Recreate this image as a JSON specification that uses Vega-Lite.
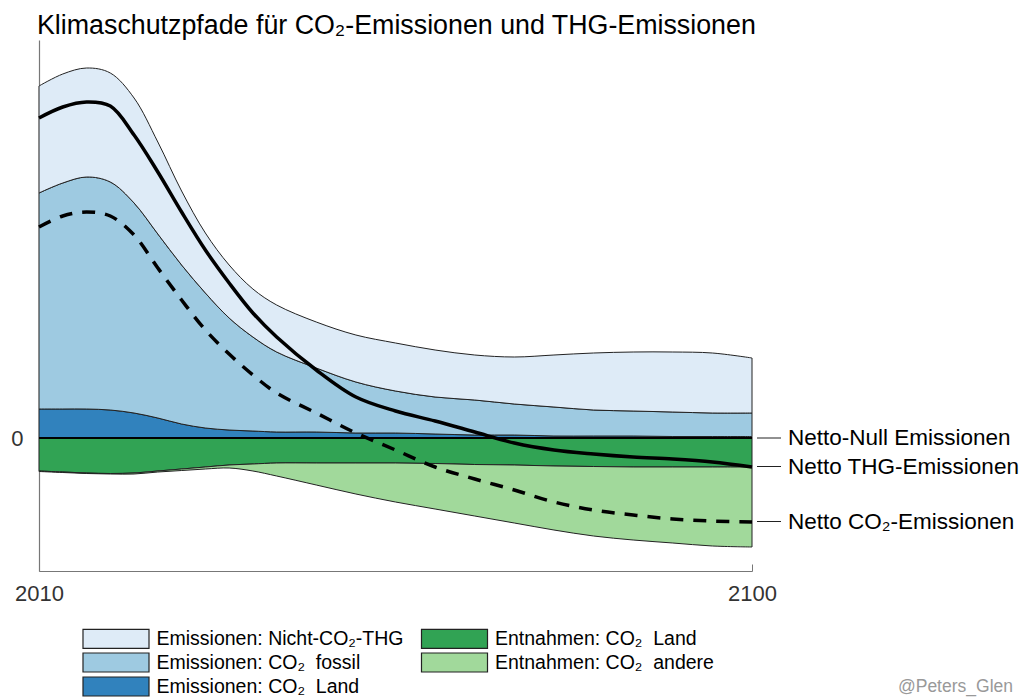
{
 "$schema": "https://vega.github.io/schema/vega-lite/v6.json",
 "width": 713, "height": 531,
 "autosize": "none",
 "padding": {"left": 39, "top": 40, "right": 267, "bottom": 126},
 "background": "white",
 "config": {"font": "Liberation Sans", "view": {"stroke": null}},
 "title": {"text": "Klimaschutzpfade für CO₂-Emissionen und THG-Emissionen", "anchor": "start", "frame": "group", "fontSize": 26.8, "fontWeight": "normal", "color": "#000", "baseline": "alphabetic", "offset": 7, "dy": 28, "dx": -2},
 "datasets": {
  "areas": [
   {"year":2010,"series":"Emissionen: CO₂\u00a0 Land","value":2.9},
   {"year":2013,"series":"Emissionen: CO₂\u00a0 Land","value":2.9},
   {"year":2016,"series":"Emissionen: CO₂\u00a0 Land","value":2.9},
   {"year":2019,"series":"Emissionen: CO₂\u00a0 Land","value":2.8},
   {"year":2022,"series":"Emissionen: CO₂\u00a0 Land","value":2.5},
   {"year":2025,"series":"Emissionen: CO₂\u00a0 Land","value":2.0},
   {"year":2028,"series":"Emissionen: CO₂\u00a0 Land","value":1.4},
   {"year":2031,"series":"Emissionen: CO₂\u00a0 Land","value":1.0},
   {"year":2034,"series":"Emissionen: CO₂\u00a0 Land","value":0.8},
   {"year":2037,"series":"Emissionen: CO₂\u00a0 Land","value":0.7},
   {"year":2040,"series":"Emissionen: CO₂\u00a0 Land","value":0.6},
   {"year":2045,"series":"Emissionen: CO₂\u00a0 Land","value":0.6},
   {"year":2050,"series":"Emissionen: CO₂\u00a0 Land","value":0.5},
   {"year":2055,"series":"Emissionen: CO₂\u00a0 Land","value":0.5},
   {"year":2060,"series":"Emissionen: CO₂\u00a0 Land","value":0.4},
   {"year":2065,"series":"Emissionen: CO₂\u00a0 Land","value":0.3},
   {"year":2070,"series":"Emissionen: CO₂\u00a0 Land","value":0.3},
   {"year":2075,"series":"Emissionen: CO₂\u00a0 Land","value":0.2},
   {"year":2080,"series":"Emissionen: CO₂\u00a0 Land","value":0.2},
   {"year":2085,"series":"Emissionen: CO₂\u00a0 Land","value":0.2},
   {"year":2090,"series":"Emissionen: CO₂\u00a0 Land","value":0.15},
   {"year":2095,"series":"Emissionen: CO₂\u00a0 Land","value":0.15},
   {"year":2100,"series":"Emissionen: CO₂\u00a0 Land","value":0.15},

   {"year":2010,"series":"Emissionen: CO₂\u00a0 fossil","value":21.6},
   {"year":2013,"series":"Emissionen: CO₂\u00a0 fossil","value":22.6},
   {"year":2016,"series":"Emissionen: CO₂\u00a0 fossil","value":23.2},
   {"year":2019,"series":"Emissionen: CO₂\u00a0 fossil","value":22.8},
   {"year":2022,"series":"Emissionen: CO₂\u00a0 fossil","value":21.0},
   {"year":2025,"series":"Emissionen: CO₂\u00a0 fossil","value":18.4},
   {"year":2028,"series":"Emissionen: CO₂\u00a0 fossil","value":15.9},
   {"year":2031,"series":"Emissionen: CO₂\u00a0 fossil","value":13.5},
   {"year":2034,"series":"Emissionen: CO₂\u00a0 fossil","value":11.2},
   {"year":2037,"series":"Emissionen: CO₂\u00a0 fossil","value":9.4},
   {"year":2040,"series":"Emissionen: CO₂\u00a0 fossil","value":8.0},
   {"year":2045,"series":"Emissionen: CO₂\u00a0 fossil","value":6.4},
   {"year":2050,"series":"Emissionen: CO₂\u00a0 fossil","value":5.1},
   {"year":2055,"series":"Emissionen: CO₂\u00a0 fossil","value":4.2},
   {"year":2060,"series":"Emissionen: CO₂\u00a0 fossil","value":3.7},
   {"year":2065,"series":"Emissionen: CO₂\u00a0 fossil","value":3.5},
   {"year":2070,"series":"Emissionen: CO₂\u00a0 fossil","value":3.1},
   {"year":2075,"series":"Emissionen: CO₂\u00a0 fossil","value":2.9},
   {"year":2080,"series":"Emissionen: CO₂\u00a0 fossil","value":2.6},
   {"year":2085,"series":"Emissionen: CO₂\u00a0 fossil","value":2.5},
   {"year":2090,"series":"Emissionen: CO₂\u00a0 fossil","value":2.45},
   {"year":2095,"series":"Emissionen: CO₂\u00a0 fossil","value":2.35},
   {"year":2100,"series":"Emissionen: CO₂\u00a0 fossil","value":2.35},

   {"year":2010,"series":"Emissionen: Nicht-CO₂-THG","value":10.7},
   {"year":2013,"series":"Emissionen: Nicht-CO₂-THG","value":10.9},
   {"year":2016,"series":"Emissionen: Nicht-CO₂-THG","value":10.9},
   {"year":2019,"series":"Emissionen: Nicht-CO₂-THG","value":10.9},
   {"year":2022,"series":"Emissionen: Nicht-CO₂-THG","value":10.5},
   {"year":2025,"series":"Emissionen: Nicht-CO₂-THG","value":9.2},
   {"year":2028,"series":"Emissionen: Nicht-CO₂-THG","value":7.4},
   {"year":2031,"series":"Emissionen: Nicht-CO₂-THG","value":6.0},
   {"year":2034,"series":"Emissionen: Nicht-CO₂-THG","value":5.3},
   {"year":2037,"series":"Emissionen: Nicht-CO₂-THG","value":4.8},
   {"year":2040,"series":"Emissionen: Nicht-CO₂-THG","value":4.7},
   {"year":2045,"series":"Emissionen: Nicht-CO₂-THG","value":4.6},
   {"year":2050,"series":"Emissionen: Nicht-CO₂-THG","value":4.7},
   {"year":2055,"series":"Emissionen: Nicht-CO₂-THG","value":4.8},
   {"year":2060,"series":"Emissionen: Nicht-CO₂-THG","value":4.7},
   {"year":2065,"series":"Emissionen: Nicht-CO₂-THG","value":4.5},
   {"year":2070,"series":"Emissionen: Nicht-CO₂-THG","value":4.7},
   {"year":2075,"series":"Emissionen: Nicht-CO₂-THG","value":5.2},
   {"year":2080,"series":"Emissionen: Nicht-CO₂-THG","value":5.7},
   {"year":2085,"series":"Emissionen: Nicht-CO₂-THG","value":5.9},
   {"year":2090,"series":"Emissionen: Nicht-CO₂-THG","value":6.0},
   {"year":2095,"series":"Emissionen: Nicht-CO₂-THG","value":6.0},
   {"year":2100,"series":"Emissionen: Nicht-CO₂-THG","value":5.5},

   {"year":2010,"series":"Entnahmen: CO₂\u00a0 Land","value":-3.3},
   {"year":2013,"series":"Entnahmen: CO₂\u00a0 Land","value":-3.4},
   {"year":2016,"series":"Entnahmen: CO₂\u00a0 Land","value":-3.5},
   {"year":2019,"series":"Entnahmen: CO₂\u00a0 Land","value":-3.55},
   {"year":2022,"series":"Entnahmen: CO₂\u00a0 Land","value":-3.5},
   {"year":2025,"series":"Entnahmen: CO₂\u00a0 Land","value":-3.3},
   {"year":2028,"series":"Entnahmen: CO₂\u00a0 Land","value":-3.1},
   {"year":2031,"series":"Entnahmen: CO₂\u00a0 Land","value":-2.9},
   {"year":2034,"series":"Entnahmen: CO₂\u00a0 Land","value":-2.7},
   {"year":2037,"series":"Entnahmen: CO₂\u00a0 Land","value":-2.6},
   {"year":2040,"series":"Entnahmen: CO₂\u00a0 Land","value":-2.5},
   {"year":2045,"series":"Entnahmen: CO₂\u00a0 Land","value":-2.5},
   {"year":2050,"series":"Entnahmen: CO₂\u00a0 Land","value":-2.5},
   {"year":2055,"series":"Entnahmen: CO₂\u00a0 Land","value":-2.5},
   {"year":2060,"series":"Entnahmen: CO₂\u00a0 Land","value":-2.55},
   {"year":2065,"series":"Entnahmen: CO₂\u00a0 Land","value":-2.65},
   {"year":2070,"series":"Entnahmen: CO₂\u00a0 Land","value":-2.7},
   {"year":2075,"series":"Entnahmen: CO₂\u00a0 Land","value":-2.8},
   {"year":2080,"series":"Entnahmen: CO₂\u00a0 Land","value":-2.85},
   {"year":2085,"series":"Entnahmen: CO₂\u00a0 Land","value":-2.9},
   {"year":2090,"series":"Entnahmen: CO₂\u00a0 Land","value":-2.9},
   {"year":2095,"series":"Entnahmen: CO₂\u00a0 Land","value":-2.9},
   {"year":2100,"series":"Entnahmen: CO₂\u00a0 Land","value":-2.9},

   {"year":2010,"series":"Entnahmen: CO₂\u00a0 andere","value":-0.05},
   {"year":2013,"series":"Entnahmen: CO₂\u00a0 andere","value":-0.05},
   {"year":2016,"series":"Entnahmen: CO₂\u00a0 andere","value":-0.05},
   {"year":2019,"series":"Entnahmen: CO₂\u00a0 andere","value":-0.05},
   {"year":2022,"series":"Entnahmen: CO₂\u00a0 andere","value":-0.1},
   {"year":2025,"series":"Entnahmen: CO₂\u00a0 andere","value":-0.1},
   {"year":2028,"series":"Entnahmen: CO₂\u00a0 andere","value":-0.15},
   {"year":2031,"series":"Entnahmen: CO₂\u00a0 andere","value":-0.2},
   {"year":2034,"series":"Entnahmen: CO₂\u00a0 andere","value":-0.3},
   {"year":2037,"series":"Entnahmen: CO₂\u00a0 andere","value":-0.7},
   {"year":2040,"series":"Entnahmen: CO₂\u00a0 andere","value":-1.3},
   {"year":2045,"series":"Entnahmen: CO₂\u00a0 andere","value":-2.2},
   {"year":2050,"series":"Entnahmen: CO₂\u00a0 andere","value":-3.1},
   {"year":2055,"series":"Entnahmen: CO₂\u00a0 andere","value":-3.9},
   {"year":2060,"series":"Entnahmen: CO₂\u00a0 andere","value":-4.55},
   {"year":2065,"series":"Entnahmen: CO₂\u00a0 andere","value":-5.15},
   {"year":2070,"series":"Entnahmen: CO₂\u00a0 andere","value":-5.8},
   {"year":2075,"series":"Entnahmen: CO₂\u00a0 andere","value":-6.4},
   {"year":2080,"series":"Entnahmen: CO₂\u00a0 andere","value":-6.95},
   {"year":2085,"series":"Entnahmen: CO₂\u00a0 andere","value":-7.3},
   {"year":2090,"series":"Entnahmen: CO₂\u00a0 andere","value":-7.6},
   {"year":2095,"series":"Entnahmen: CO₂\u00a0 andere","value":-7.9},
   {"year":2100,"series":"Entnahmen: CO₂\u00a0 andere","value":-8.0}
  ],
  "netto": [
   {"year":2010,"ghg":32.0,"co2":21.1},
   {"year":2013,"ghg":33.1,"co2":22.2},
   {"year":2016,"ghg":33.6,"co2":22.6},
   {"year":2019,"ghg":33.2,"co2":22.2},
   {"year":2022,"ghg":30.3,"co2":20.3},
   {"year":2025,"ghg":26.6,"co2":17.0},
   {"year":2028,"ghg":22.6,"co2":13.8},
   {"year":2031,"ghg":18.8,"co2":10.8},
   {"year":2034,"ghg":15.5,"co2":8.4},
   {"year":2037,"ghg":12.5,"co2":6.3},
   {"year":2040,"ghg":10.1,"co2":4.5},
   {"year":2045,"ghg":6.8,"co2":2.5},
   {"year":2050,"ghg":4.1,"co2":0.5},
   {"year":2055,"ghg":2.7,"co2":-1.2},
   {"year":2060,"ghg":1.7,"co2":-2.9},
   {"year":2065,"ghg":0.6,"co2":-4.1},
   {"year":2070,"ghg":-0.5,"co2":-5.2},
   {"year":2075,"ghg":-1.2,"co2":-6.4},
   {"year":2080,"ghg":-1.6,"co2":-7.2},
   {"year":2085,"ghg":-1.9,"co2":-7.7},
   {"year":2090,"ghg":-2.1,"co2":-8.1},
   {"year":2095,"ghg":-2.4,"co2":-8.3},
   {"year":2100,"ghg":-2.9,"co2":-8.4}
  ],
  "labels": [
   {"label":"Netto-Null Emissionen","value":0},
   {"label":"Netto THG-Emissionen","value":-2.85},
   {"label":"Netto CO₂-Emissionen","value":-8.35}
  ]
 },
 "layer": [
  {
   "data": {"name": "areas"},
   "mark": {"type": "area", "interpolate": "catmull-rom", "stroke": "#222", "strokeWidth": 1, "opacity": 1},
   "encoding": {
    "x": {"field": "year", "type": "quantitative", "scale": {"domain": [2010, 2100], "nice": false, "zero": false},
          "axis": {"values": [2010, 2100], "format": "d", "title": null, "grid": false, "domainColor": "#777", "domainWidth": 1.2, "tickColor": "#777", "tickSize": -7, "labelFontSize": 22, "labelColor": "#333", "labelPadding": 19, "labelFlush": false}},
    "y": {"field": "value", "type": "quantitative", "stack": "zero", "scale": {"domain": [-13.3, 39.8], "nice": false, "zero": false},
          "axis": {"values": [0], "title": null, "grid": false, "ticks": false, "domainColor": "#777", "domainWidth": 1.2, "labelFontSize": 22, "labelColor": "#333", "labelPadding": 16}},
    "color": {"field": "series", "type": "nominal",
      "scale": {"domain": ["Emissionen: Nicht-CO₂-THG", "Emissionen: CO₂\u00a0 fossil", "Emissionen: CO₂\u00a0 Land", "Entnahmen: CO₂\u00a0 Land", "Entnahmen: CO₂\u00a0 andere"],
                "range": ["#deebf7", "#9ecae1", "#3182bd", "#31a354", "#a1d99b"]},
      "legend": {"title": null, "orient": "none", "legendX": 66.5, "legendY": 588, "columns": 2, "symbolType": "M-3.474,-1H3.474V1H-3.474Z", "symbolSize": 361, "symbolStrokeColor": "#222", "symbolStrokeWidth": 1.2, "symbolOpacity": 1, "labelFontSize": 19.5, "labelColor": "#000", "labelOffset": 30, "labelLimit": 0, "rowPadding": -1, "columnPadding": 14.5, "padding": 0}},
    "order": {"field": "series", "type": "nominal", "sort": "ascending"}
   }
  },
  {
   "data": {"values": [{}]},
   "mark": {"type": "rule", "color": "#000", "strokeWidth": 2},
   "encoding": {"y": {"datum": 0}}
  },
  {
   "data": {"name": "netto"},
   "mark": {"type": "line", "interpolate": "catmull-rom", "color": "#000", "strokeWidth": 3.5},
   "encoding": {"x": {"field": "year", "type": "quantitative"}, "y": {"field": "ghg", "type": "quantitative"}}
  },
  {
   "data": {"name": "netto"},
   "mark": {"type": "line", "interpolate": "catmull-rom", "color": "#000", "strokeWidth": 3.5, "strokeDash": [13, 10]},
   "encoding": {"x": {"field": "year", "type": "quantitative"}, "y": {"field": "co2", "type": "quantitative"}}
  },
  {
   "data": {"name": "labels"},
   "mark": {"type": "rule", "color": "#222", "strokeWidth": 1, "xOffset": 5, "x2Offset": 29},
   "encoding": {"x": {"datum": 2100}, "x2": {"datum": 2100}, "y": {"field": "value", "type": "quantitative"}}
  },
  {
   "data": {"name": "labels"},
   "mark": {"type": "text", "align": "left", "baseline": "middle", "dx": 36, "fontSize": 22.5, "color": "#000"},
   "encoding": {"x": {"datum": 2100}, "y": {"field": "value", "type": "quantitative"}, "text": {"field": "label"}}
  },
  {
   "data": {"values": [{"text": "@Peters_Glen"}]},
   "mark": {"type": "text", "align": "right", "baseline": "middle", "dx": 261, "dy": 116, "fontSize": 17.5, "color": "#999"},
   "encoding": {"x": {"datum": 2100}, "y": {"datum": -13.3}, "text": {"field": "text"}}
  }
 ]
}
